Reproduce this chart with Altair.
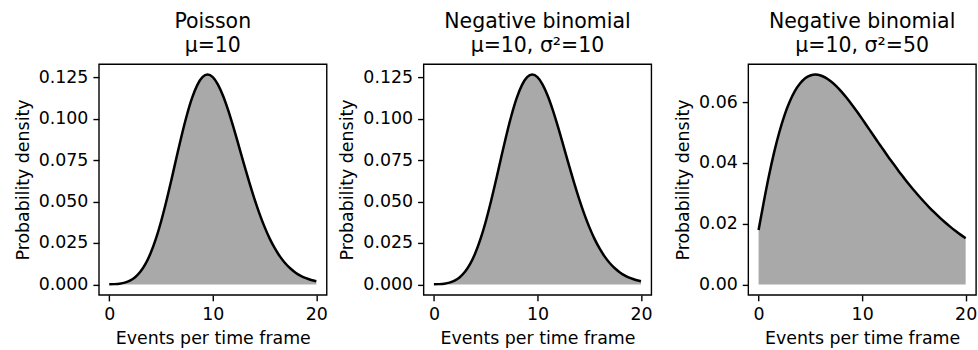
import altair as alt
import pandas as pd

events = [i * 0.5 for i in range(41)]

poisson_mu10 = [0.0000454, 0.000162, 0.000454, 0.00108, 0.00227, 0.00432, 0.00757, 0.01235,
                0.01892, 0.02743, 0.03783, 0.04987, 0.06306, 0.07673, 0.09008, 0.10227,
                0.11260, 0.12033, 0.12511, 0.12668, 0.12511, 0.12064, 0.11374, 0.10491,
                0.09478, 0.08393, 0.07291, 0.06217, 0.05208, 0.04288, 0.03472, 0.02766,
                0.02170, 0.01676, 0.01276, 0.00958, 0.00709, 0.00518, 0.00373, 0.00266, 0.00187]

negbin_var10 = list(poisson_mu10)

negbin_var50 = [0.01789, 0.02716, 0.03578, 0.04346, 0.05009, 0.05567, 0.06011, 0.06361,
                0.06612, 0.06784, 0.06877, 0.06907, 0.06877, 0.06799, 0.06680, 0.06527,
                0.06346, 0.06143, 0.05923, 0.05690, 0.05449, 0.05200, 0.04954, 0.04700,
                0.04459, 0.04212, 0.03979, 0.03745, 0.03524, 0.03306, 0.03101, 0.02901,
                0.02713, 0.02531, 0.02362, 0.02199, 0.02047, 0.01902, 0.01767, 0.01639, 0.01520]

titles = [["Poisson", "μ=10"], ["Negative binomial", "μ=10, σ²=10"], ["Negative binomial", "μ=10, σ²=50"]]
y_ticks_a = [0, 0.025, 0.05, 0.075, 0.1, 0.125]
y_ticks_b = [0, 0.02, 0.04, 0.06]
x_ticks = [0, 10, 20]

FONT = "DejaVu Sans"


def panel(values, title, ydom, yticks, yfmt):
    df = pd.DataFrame({"x": events, "y": values})
    xenc = alt.X("x:Q", scale=alt.Scale(domain=[-1, 21], nice=False, zero=False),
                 axis=alt.Axis(values=x_ticks, title="Events per time frame", format="d"))
    yenc = alt.Y("y:Q", scale=alt.Scale(domain=ydom, nice=False, zero=False),
                 axis=alt.Axis(values=yticks, title="Probability density", format=yfmt))
    base = alt.Chart(df)
    area = base.mark_area(color="#a9a9a9", interpolate="monotone").encode(
        x=xenc, y=yenc, y2=alt.datum(0))
    line = base.mark_line(color="black", strokeWidth=2.5, interpolate="monotone").encode(
        x="x:Q", y="y:Q")
    return alt.layer(area, line).properties(
        width=228, height=231,
        title=alt.TitleParams(title, fontSize=20.5, font=FONT, fontWeight="normal",
                              color="black", offset=8, lineHeight=24))


p1 = panel(poisson_mu10, titles[0], [-0.00633, 0.13301], y_ticks_a, ".3f")
p2 = panel(negbin_var10, titles[1], [-0.00633, 0.13301], y_ticks_a, ".3f")
p3 = panel(negbin_var50, titles[2], [-0.00345, 0.07253], y_ticks_b, ".2f")

chart = alt.hconcat(p1, p2, p3, spacing=97, bounds="flush").properties(
    padding={"left": 13, "top": 10, "right": 0, "bottom": 0},
    background="white",
).configure_view(
    stroke="black", strokeWidth=1.4
).configure_axis(
    domain=False, grid=False, ticks=True, tickColor="black", tickSize=6, tickWidth=1.4,
    labelFont=FONT, labelFontSize=17.4, labelColor="black", labelPadding=5,
    titleFont=FONT, titleFontSize=17.4, titleColor="black", titleFontWeight="normal",
    titlePadding=6
)

chart.save("out.html", embed_options={"renderer": "svg", "actions": False})
